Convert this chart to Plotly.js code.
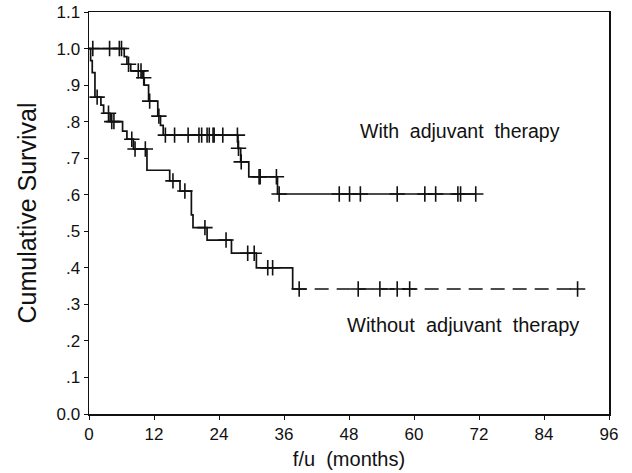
<!DOCTYPE html>
<html>
<head>
<meta charset="utf-8">
<script src="https://cdn.plot.ly/plotly-3.0.1.min.js"></script>
<style>
  html, body { margin: 0; padding: 0; background: #fff; }
  #chart { width: 632px; height: 473px; }
</style>
</head>
<body>
<div id="chart"></div>
<script>
// Kaplan-Meier step data: event times (months) and survival after each step
const withTimes = [0, 6.5, 7.0, 7.7, 9.8, 10.2, 11.0, 12.7, 13.2, 13.7, 27.5, 28.0, 29.5, 34.8];
const withSurv  = [1.0, 0.978, 0.957, 0.939, 0.92, 0.9, 0.856, 0.815, 0.79, 0.763, 0.727, 0.69, 0.649, 0.602];
const withEnd = 71.4;
const withCensored = [0.7, 3.8, 5.6, 6.0, 7.3, 9.1, 9.6, 10.1, 11.2, 12.9, 14.1, 15.8, 18.3, 20.3, 20.8,
  21.8, 22.2, 22.9, 23.1, 24.7, 27.4, 27.6, 28.1, 31.4, 31.6, 34.6, 35.1, 46.2, 48.1, 50.1, 56.9,
  62.0, 64.0, 68.1, 68.6, 71.4];

const withoutTimes = [0, 0.3, 0.6, 1.1, 2.2, 2.7, 3.9, 6.2, 7.0, 8.2, 10.7, 14.9, 16.8, 18.9, 19.2,
  21.8, 26.3, 30.9, 37.6];
const withoutSurv  = [1.0, 0.967, 0.934, 0.867, 0.845, 0.823, 0.80, 0.774, 0.752, 0.725, 0.667, 0.638,
  0.61, 0.545, 0.51, 0.476, 0.44, 0.40, 0.342];
const withoutEnd = 90.2;
const withoutCensored = [1.5, 3.6, 4.2, 4.6, 7.9, 8.5, 10.4, 15.5, 17.7, 21.4, 25.3, 29.3, 30.5, 33.0,
  33.9, 38.8, 49.7, 53.7, 56.9, 59.2, 90.2];

const xTicks = [0, 12, 24, 36, 48, 60, 72, 84, 96];
const yTicks = [0, 0.1, 0.2, 0.3, 0.4, 0.5, 0.6, 0.7, 0.8, 0.9, 1.0, 1.1];
const yTickText = ['0.0', '.1', '.2', '.3', '.4', '.5', '.6', '.7', '.8', '.9', '1.0', '1.1'];

// survival level of a step curve at time t
function survAt(times, surv, t) {
  let s = surv[0];
  for (let i = 0; i < times.length; i++) { if (times[i] <= t) s = surv[i]; }
  return s;
}

const ink = '#111';
const font = 'Liberation Sans, Arial, sans-serif';

function stepTrace(x, y, dash) {
  return { x: x, y: y, mode: 'lines', type: 'scatter', hoverinfo: 'skip',
    line: { shape: 'hv', color: ink, width: 1.7, dash: dash || 'solid' }, showlegend: false };
}
function censorTrace(times, surv, cens) {
  return { x: cens, y: cens.map(t => survAt(times, surv, t)), mode: 'markers', type: 'scatter',
    marker: { symbol: 'cross-thin-open', size: 11, color: ink, line: { color: ink, width: 1.6 } },
    showlegend: false, hoverinfo: 'skip' };
}

// upper curve: steps followed by a flat tail to the last follow-up
const wx = withTimes.concat([withEnd]);
const wy = withSurv.concat([withSurv[withSurv.length - 1]]);

// lower curve: solid until the last event, dashed tail afterwards
const nLast = withoutTimes.length - 1;
const lx = withoutTimes.slice();
const ly = withoutSurv.slice();
const tailX = [withoutTimes[nLast], withoutEnd];
const tailY = [withoutSurv[nLast], withoutSurv[nLast]];

const data = [
  stepTrace(wx, wy),
  censorTrace(withTimes, withSurv, withCensored),
  stepTrace(lx, ly),
  stepTrace(tailX, tailY, '14px,8px'),
  censorTrace(withoutTimes, withoutSurv, withoutCensored)
];

const layout = {
  width: 632, height: 473,
  margin: { l: 89, r: 23, t: 12, b: 59 },
  paper_bgcolor: '#fff', plot_bgcolor: '#fff',
  font: { family: font, color: ink, size: 17 },
  showlegend: false,
  xaxis: {
    range: [0, 96], tickvals: xTicks, ticktext: xTicks.map(String),
    showgrid: false, zeroline: false, showline: true, linecolor: ink, linewidth: 1.5, mirror: true,
    ticks: 'outside', ticklen: 4, tickcolor: ink, tickfont: { size: 17, family: font },
    title: { text: 'f/u  (months)', font: { size: 20, family: font }, standoff: 9 }
  },
  yaxis: {
    range: [0, 1.1], tickvals: yTicks, ticktext: yTickText,
    showgrid: false, zeroline: false, showline: true, linecolor: ink, linewidth: 1.5, mirror: true,
    ticks: 'outside', ticklen: 4, tickcolor: ink, tickfont: { size: 17, family: font },
    title: { text: 'Cumulative Survival', font: { size: 25, family: font }, standoff: 12 }
  },
  annotations: [
    { x: 68.5, y: 0.774, xref: 'x', yref: 'y', text: 'With  adjuvant  therapy', showarrow: false,
      font: { size: 19.5, family: font, color: ink } },
    { x: 69.1, y: 0.243, xref: 'x', yref: 'y', text: 'Without  adjuvant  therapy', showarrow: false,
      font: { size: 20, family: font, color: ink } }
  ]
};

Plotly.newPlot('chart', data, layout, { staticPlot: true, displayModeBar: false });
</script>
</body>
</html>
